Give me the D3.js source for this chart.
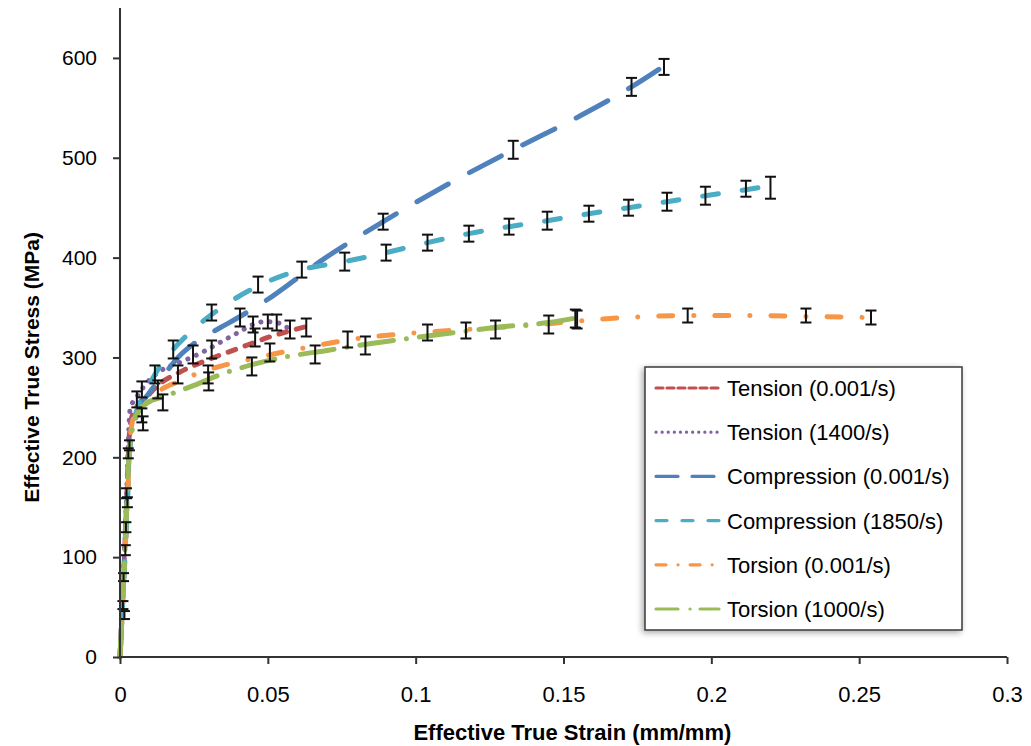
<!DOCTYPE html>
<html>
<head>
<meta charset="utf-8">
<script src="https://cdn.jsdelivr.net/npm/d3@7"></script>
<style>
  body { margin: 0; background: #fff; }
  svg text { font-family: "Liberation Sans", Arial, sans-serif; fill: #000; }
</style>
</head>
<body>
<svg id="drawing_region"></svg>
<script>
// ---- data: [strain, stress] ----
const seriesNames = ["Tension (0.001/s)", "Tension (1400/s)", "Compression (0.001/s)",
                     "Compression (1850/s)", "Torsion (0.001/s)", "Torsion (1000/s)"];

const tension001 = [[0,0],[0.0012,80],[0.0022,150],[0.003,215],[0.0038,238],[0.006,252],[0.0095,262],
  [0.0128,272],[0.02,285],[0.03,298],[0.04,309],[0.05,320],[0.063,331]];
const tension1400 = [[0,0],[0.0012,85],[0.0022,160],[0.003,230],[0.0034,248],[0.006,262],[0.0095,276],
  [0.0145,288],[0.021,296],[0.0277,305],[0.0338,315],[0.0406,326],[0.045,333],[0.049,336],[0.053,335],[0.057,329]];
const compression001 = [[0,0],[0.0012,75],[0.0022,150],[0.0035,215],[0.006,245],[0.01,265],[0.015,283],
  [0.0196,300],[0.0255,315],[0.034,330],[0.04,340],[0.0514,361],[0.0676,396],[0.089,436],[0.11,472],
  [0.133,508],[0.155,541],[0.173,571],[0.184,592]];
const compression1850 = [[0,0],[0.0012,70],[0.0022,130],[0.0035,215],[0.006,250],[0.009,268],[0.0118,283],
  [0.018,308],[0.024,326],[0.031,343],[0.047,372],[0.0615,388],[0.076,396],[0.09,405],[0.104,415],
  [0.118,424],[0.1316,431],[0.1445,437],[0.1586,444],[0.172,450],[0.185,456],[0.198,462],[0.2117,468],[0.218,471]];
const torsion001 = [[0,0],[0.0012,70],[0.0024,150],[0.0035,220],[0.0044,238],[0.008,252],[0.014,268],
  [0.02,276],[0.028,286],[0.035,292],[0.047,300],[0.056,306],[0.065,311],[0.078,318],[0.097,324],
  [0.117,328],[0.142,333],[0.157,337],[0.178,341],[0.194,342],[0.215,342],[0.234,341],[0.254,340]];
const torsion1000 = [[0,0],[0.001,60],[0.002,130],[0.003,200],[0.0045,232],[0.0065,247],[0.0095,255],
  [0.015,261],[0.025,272],[0.035,284],[0.045,293],[0.055,300],[0.07,307],[0.085,314],[0.1,320],
  [0.116,326],[0.13,331],[0.145,335],[0.155,340]];

// ---- error bars: [strain, stress, +/- error] ----
const errTension001 = [[0.0015,42,4],[0.0025,155,5],[0.0128,268,9],[0.0196,283,9],[0.0457,320,9],[0.063,330,9]];
const errTension1400 = [[0.001,52,4],[0.0028,204,5],[0.0074,268,8],[0.031,308,9],[0.0406,340,9],
  [0.045,333,8],[0.05,336,7],[0.053,335,8],[0.0575,328,9]];
const errCompression001 = [[0.002,130,5],[0.0057,258,8],[0.0247,303,9],[0.089,436,8],[0.133,508,9],[0.173,571,9],[0.184,591,8]];
const errCompression1850 = [[0.0018,107,5],[0.0118,283,9],[0.018,308,9],[0.031,345,8],[0.0467,373,8],
  [0.0615,388,8],[0.076,396,9],[0.09,405,8],[0.104,415,8],[0.118,424,8],[0.1316,431,8],[0.1445,437,9],
  [0.1586,444,8],[0.172,450,8],[0.185,456,9],[0.198,462,9],[0.2117,469,8],[0.22,470,11]];
const errTorsion001 = [[0.0022,164,5],[0.0074,242,7],[0.0298,283,9],[0.0507,305,9],[0.077,318,8],
  [0.154,339,9],[0.192,342,7],[0.232,342,7],[0.254,340,7]];
const errTorsion1000 = [[0.0012,80,4],[0.0032,212,5],[0.0078,234,7],[0.0145,255,8],[0.03,276,9],
  [0.0446,291,9],[0.066,303,9],[0.083,312,9],[0.104,325,8],[0.117,327,8],[0.127,328,9],[0.145,333,9],[0.1546,338,9]];

const xTicks = [0, 0.05, 0.1, 0.15, 0.2, 0.25, 0.3];
const yTicks = [0, 100, 200, 300, 400, 500, 600];

const allSeries = [tension001, tension1400, compression001, compression1850, torsion001, torsion1000];
const allErrors = [errTension001, errTension1400, errCompression001, errCompression1850, errTorsion001, errTorsion1000];

// ---- styles ----
const colors = ["#C0504D", "#8064A2", "#4F81BD", "#4BACC6", "#F79646", "#9BBB59"];
const dashes = ["8,10", "0.1,9", "36,24", "16,24", "14,21,0.1,21", "34,13,0.1,13"];
const legendDashes = ["7,4", "0.1,6", "22,14", "11,15", "10,12,0.1,12", "22,12,0.1,10"];

const config = {
  width: 1031, height: 746,
  margin: {top: 8, right: 24, bottom: 89, left: 120}
};

const svg = d3.select('#drawing_region')
  .attr('width', config.width)
  .attr('height', config.height);

const defs = svg.append('defs');
const shadow = defs.append('filter').attr('id', 'shadow')
  .attr('x', '-10%').attr('y', '-10%').attr('width', '120%').attr('height', '120%');
shadow.append('feDropShadow').attr('dx', -2).attr('dy', 2)
  .attr('stdDeviation', 3).attr('flood-color', '#000').attr('flood-opacity', 0.35);

const inner_width = config.width - config.margin.left - config.margin.right;
const inner_height = config.height - config.margin.top - config.margin.bottom;

const chart = svg.append('g')
  .attr('transform', `translate(${config.margin.left}, ${config.margin.top})`);

const xscale = d3.scaleLinear().domain([0, 0.3]).range([0, inner_width]);
const yscale = d3.scaleLinear().domain([0, 650]).range([inner_height, 0]);

const line = d3.line()
  .x(d => xscale(d[0]))
  .y(d => yscale(d[1]))
  .curve(d3.curveMonotoneX);

// series lines
allSeries.forEach((s, i) => {
  chart.append('path')
    .attr('d', line(s))
    .attr('fill', 'none')
    .attr('stroke', colors[i])
    .attr('stroke-width', 5)
    .attr('stroke-linecap', 'round')
    .attr('stroke-dasharray', dashes[i]);
});

// error bars
const capHalf = 5.5;
allErrors.forEach(errs => {
  const g = chart.append('g').attr('stroke', '#111').attr('stroke-width', 2).attr('fill', 'none');
  errs.forEach(d => {
    const x = xscale(d[0]), y0 = yscale(d[1] - d[2]), y1 = yscale(d[1] + d[2]);
    g.append('line').attr('x1', x).attr('x2', x).attr('y1', y0).attr('y2', y1);
    g.append('line').attr('x1', x - capHalf).attr('x2', x + capHalf).attr('y1', y0).attr('y2', y0);
    g.append('line').attr('x1', x - capHalf).attr('x2', x + capHalf).attr('y1', y1).attr('y2', y1);
  });
});

// axes
const xaxis = d3.axisBottom(xscale).tickValues(xTicks).tickSize(7).tickPadding(22)
  .tickFormat(d => d === 0 ? "0" : String(+d.toFixed(2)));
const yaxis = d3.axisLeft(yscale).tickValues(yTicks).tickSize(7).tickPadding(16);

const xg = chart.append('g').attr('transform', `translate(0, ${inner_height})`).call(xaxis);
const yg = chart.append('g').call(yaxis);
[xg, yg].forEach(g => {
  g.select('.domain').attr('stroke', '#333').attr('stroke-width', 2);
  g.selectAll('.tick line').attr('stroke', '#333').attr('stroke-width', 2);
  g.selectAll('.tick text')
    .style('font-family', '"Liberation Sans", Arial, sans-serif').attr('fill', '#000');
});
xg.selectAll('.tick text').style('font-size', '22px');
yg.selectAll('.tick text').style('font-size', '21px');
// axis lines drawn without outer ticks
yg.select('.domain').attr('d', `M0,0V${inner_height}`);
xg.select('.domain').attr('d', `M0,0H${inner_width}`);

// axis titles
svg.append('text')
  .attr('x', config.margin.left + xscale(0.153))
  .attr('y', 740)
  .attr('text-anchor', 'middle')
  .style('font-size', '22px').style('font-weight', 'bold')
  .text('Effective True Strain (mm/mm)');

svg.append('text')
  .attr('transform', `translate(39, ${config.margin.top + yscale(290)}) rotate(-90)`)
  .attr('text-anchor', 'middle')
  .style('font-size', '21px').style('font-weight', 'bold')
  .text('Effective True Stress (MPa)');

// legend
const legend = svg.append('g').attr('transform', 'translate(645, 367)');
legend.append('rect')
  .attr('width', 317).attr('height', 263)
  .attr('fill', '#fff').attr('stroke', '#3a3a3a').attr('stroke-width', 1.5)
  .attr('filter', 'url(#shadow)');
seriesNames.forEach((name, i) => {
  const y = 21 + i * 44.2;
  legend.append('line')
    .attr('x1', 11).attr('x2', 74).attr('y1', y).attr('y2', y)
    .attr('stroke', colors[i]).attr('stroke-width', 3.2)
    .attr('stroke-linecap', 'round')
    .attr('stroke-dasharray', legendDashes[i]);
  legend.append('text')
    .attr('x', 82).attr('y', y + 8)
    .style('font-size', '22px')
    .text(name);
});
</script>
</body>
</html>
